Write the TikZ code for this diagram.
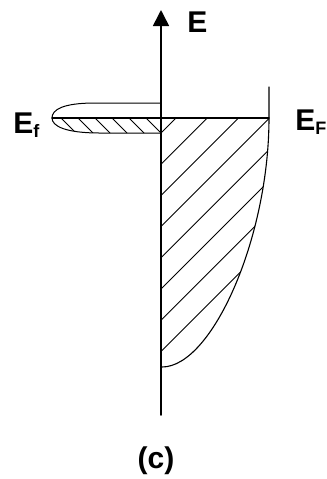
\documentclass[tikz,border=0pt]{standalone}
\usepackage{fontspec}
\setmainfont{Liberation Sans}
\usetikzlibrary{arrows.meta}
\newcommand{\lowsub}[1]{\raisebox{-2pt}{\fontsize{9}{9}\selectfont #1}}
\begin{document}
\begin{tikzpicture}[x=0.5pt, y=-0.5pt, line join=round, line cap=round,
    lbl/.style={font=\fontsize{15}{17}\selectfont\bfseries, inner sep=0pt},
    hatch/.style={line width=0.45pt}]
  \useasboundingbox (0,0) rectangle (327,479);
  \coordinate (O) at (161,415);
  \coordinate (T) at (161,10);
  \coordinate (L) at (52,118);
  \coordinate (R) at (269,118);
  \coordinate (Rt) at (269,87);
  \coordinate (B) at (162,367);
  % left band, lower half hatched
  \begin{scope}
    \clip (161,118) -- (L) .. controls (52,126) and (65,133) .. (100,133) -- (161,133) -- cycle;
    \foreach \k in {0,...,6}
      \draw[hatch] ({161-17*\k},133) -- ++(-25,-25);
  \end{scope}
  \draw[line width=0.5pt] (161,103) -- (95,103) .. controls (62,103) and (52,110) .. (L)
    .. controls (52,126) and (65,133) .. (100,133) -- (161,133);
  % filled band on the right
  \begin{scope}
    \clip (161,118) -- (R) .. controls (269,238) and (212,367) .. (B) -- (161,367) -- cycle;
    \foreach \k in {0,...,7}
      \draw[hatch] (161,{133+31.2*\k}) -- ++(200,-200);
  \end{scope}
  \draw[line width=0.55pt] (Rt) -- (R) .. controls (269,238) and (212,367) .. (B);
  \draw[line width=0.7pt] (L) -- (R);
  \draw[line width=0.8pt, -{Triangle[width=8pt,length=8pt]}] (O) -- (T);
  \node[lbl, anchor=base west] (E) at (187,32) {E};
  \node[lbl, anchor=base west] (Ef) at (13,133) {E\lowsub{f}};
  \node[lbl, anchor=base west] (EF) at (295,130) {E\lowsub{F}};
  \node[lbl] (c) at (156,461) {(c)};
\end{tikzpicture}
\end{document}
